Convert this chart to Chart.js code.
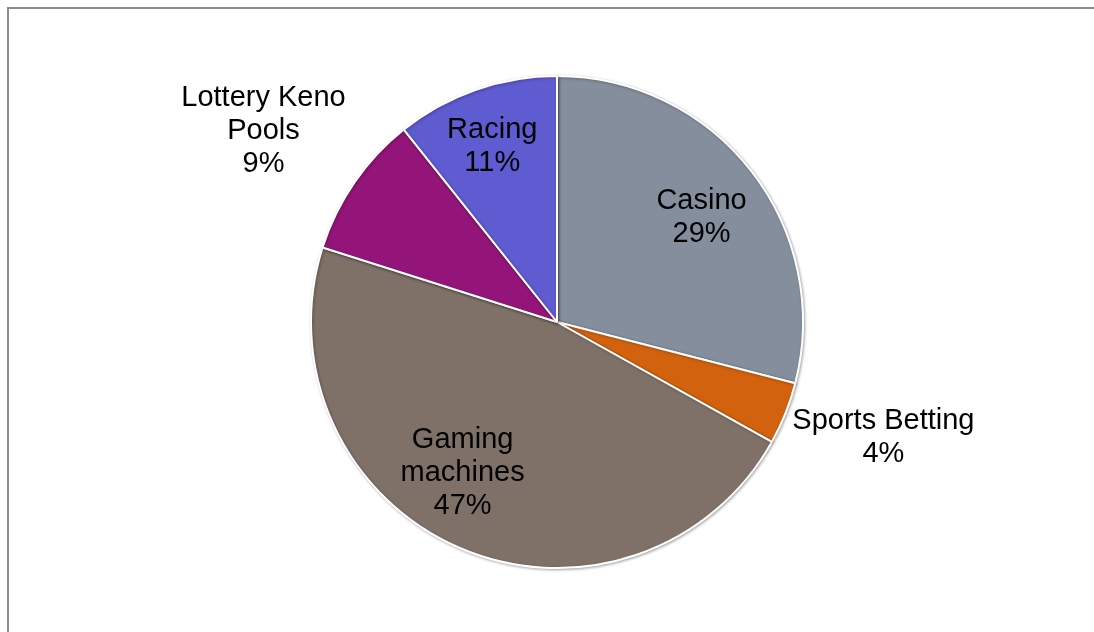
<!DOCTYPE html>
<html>
<head>
<meta charset="utf-8">
<script src="https://cdn.jsdelivr.net/npm/chart.js@4"></script>
<style>
  html, body { margin: 0; padding: 0; background: #fff; }
  #wrap { width: 1094px; height: 632px; position: relative; }
</style>
</head>
<body>
<div id="wrap"><canvas id="myChartGambling"></canvas></div>
<script>
const categorias = ['Casino', 'Sports Betting', 'Gaming machines', 'Lottery Keno Pools', 'Racing']
const valores = [29.0, 4.1, 46.8, 9.4, 10.7]
const etiquetas = [['Casino', '29%'], ['Sports Betting', '4%'], ['Gaming', 'machines', '47%'], ['Lottery Keno', 'Pools', '9%'], ['Racing', '11%']]
const colores = ['#858E9C', '#D3620E', '#7F7068', '#941579', '#5F5BD1']
// label placement: distance from centre (fraction of radius) and a small angle nudge (degrees)
const distancia = [0.732, 1.404, 0.716, 1.430, 0.771]
const giro = [1.2, -2.7, 9.0, -1.1, -0.7]

// grey frame, only top and left edges like the original
const marco = {
    id: 'marco',
    beforeDraw(chart) {
        const c = chart.ctx
        c.save()
        c.strokeStyle = '#8C8C8C'
        c.lineWidth = 2
        c.beginPath()
        c.moveTo(8, 632)
        c.lineTo(8, 8)
        c.lineTo(1094, 8)
        c.stroke()
        c.restore()
    }
}

const sombra = {
    id: 'sombra',
    beforeDatasetsDraw(chart) {
        const c = chart.ctx
        c.save()
        c.shadowColor = 'rgba(0,0,0,0.3)'
        c.shadowBlur = 3
        c.shadowOffsetX = 1
        c.shadowOffsetY = 1
    },
    afterDatasetsDraw(chart) {
        chart.ctx.restore()
    }
}

const rotulos = {
    id: 'rotulos',
    afterDatasetsDraw(chart) {
        const c = chart.ctx
        const meta = chart.getDatasetMeta(0)
        c.save()
        c.font = '29px "Liberation Sans", Arial, sans-serif'
        c.fillStyle = '#000'
        c.textAlign = 'center'
        c.textBaseline = 'alphabetic'
        meta.data.forEach((arc, i) => {
            const p = arc.getProps(['x', 'y', 'startAngle', 'endAngle', 'outerRadius'], true)
            const mid = (p.startAngle + p.endAngle) / 2 + giro[i] * Math.PI / 180
            const r = p.outerRadius * distancia[i]
            const x = p.x + Math.cos(mid) * r
            const y = p.y + Math.sin(mid) * r
            const lines = etiquetas[i]
            const lh = 33
            lines.forEach((t, k) => {
                c.fillText(t, x, y + 10.5 + (k - (lines.length - 1) / 2) * lh)
            })
        })
        c.restore()
    }
}

var ctx = document.getElementById('myChartGambling')
var myChart = new Chart(ctx, {
    type: 'pie',
    data: {
        labels: categorias,
        datasets: [{
            data: valores,
            backgroundColor: colores,
            borderColor: '#FFFFFF',
            borderWidth: 2
        }]
    },
    options: {
        responsive: true,
        maintainAspectRatio: false,
        animation: false,
        layout: {
            padding: { top: 75, bottom: 63, left: 310, right: 290 }
        },
        plugins: {
            legend: { display: false },
            tooltip: { enabled: false }
        }
    },
    plugins: [marco, sombra, rotulos]
})
</script>
</body>
</html>
